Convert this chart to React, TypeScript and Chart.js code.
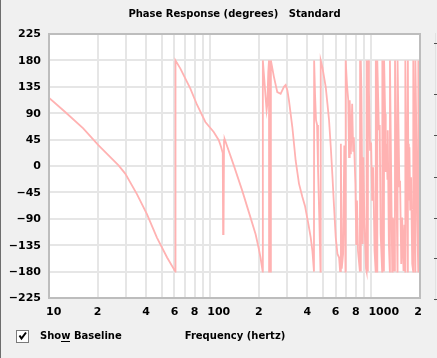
import React, { useEffect, useRef } from "react";
import { Chart, registerables } from "chart.js";

Chart.register(...registerables);

// Frequency (Hz) and phase (degrees)
const FREQ_HZ = [
  10, 10.1, 12.6, 16.3, 20.3, 27, 29.7, 35.1, 40.5, 46.7,
  54, 60.8, 60.9, 65.3, 75.3, 82.9, 93.3, 105.1, 113, 116.9,
  119.6, 120.2, 120.9, 121.8, 122.8, 140, 157.9, 177.8, 191, 199.4,
  205, 211.5, 212, 217.3, 220.4, 223.6, 226, 229.1, 231.5, 231.8,
  237.5, 237.8, 248.3, 260.6, 273.3, 286.5, 293.6, 300.8, 307.8, 323.1,
  338.8, 355.2, 372.9, 387, 406.3, 420, 430.4, 440, 441, 447,
  453, 460, 466, 475, 483, 484.5, 496.5, 507.8, 520.3, 533.3,
  545.7, 559.4, 573.2, 586.1, 600.6, 615.4, 629.8, 638.8, 646, 654,
  667, 678.5, 690, 692, 705, 718, 726, 733, 745, 759,
  770, 777, 785, 795, 805, 813, 825, 848, 850, 858,
  860, 866, 882, 890, 905, 925, 932, 934, 950, 952,
  965, 980, 995, 1010, 1025, 1045, 1062, 1064, 1085, 1087,
  1112, 1125, 1140, 1165, 1168, 1195, 1198, 1215, 1226, 1240,
  1256, 1262, 1282, 1300, 1302, 1345, 1355, 1370, 1385, 1398,
  1400, 1450, 1452, 1470, 1490, 1505, 1530, 1550, 1580, 1600,
  1620, 1622, 1680, 1682, 1690, 1705, 1720, 1740, 1760, 1790,
  1815, 1817, 1870, 1873, 1890, 1925, 1950, 1953, 1980, 1983, 2000,
];

const PHASE_DEG = [
  116, 115, 92, 64, 35, 1, -13, -48, -82, -122,
  -156, -180, 180, 166, 132, 104, 75, 58, 44, 32,
  22, -116, -112, 44, 46, 1, -42, -88, -116, -139,
  -156, -180, 180, 141, 118, 95, 105, 160, 180, -180,
  -180, 180, 152, 126, 123, 135, 138, 129, 112, 66,
  9, -30, -53, -68, -99, -122, -145, -180, 180, 120,
  78, 70, -3, -90, -180, 180, 168, 152, 135, 106,
  78, 32, -19, -70, -122, -150, -156, -179, 38, -175,
  -150, 35, -180, 180, 138, 112, 15, 112, 20, 106,
  26, 49, 15, -30, -133, -59, -145, -180, 180, -180,
  180, 129, -133, 15, -99, -175, -180, 180, -180, 180,
  129, 26, 40, -59, -2, -145, -180, 180, -180, 180,
  61, 70, -116, -180, 180, -180, 180, 89, -10, 38,
  -22, 61, -133, -180, 180, -180, -88, -179, -90, -180,
  180, -180, 180, 72, -36, -25, -167, -88, -179, -100,
  -180, 180, -180, 180, 38, -59, 32, -76, -19, -167,
  -180, 180, -180, 180, 95, -93, -180, 180, -180, 180, 100,
];

const X_GRID = [10, 20, 30, 40, 50, 60, 70, 80, 90, 100, 200, 300, 400, 500, 600, 700, 800, 900, 1000, 2000];
const X_LABEL_VALUES = [10, 20, 40, 60, 80, 100, 200, 400, 600, 800, 1000, 2000];
const X_LABEL_TEXT = ["10", "2", "4", "6", "8", "100", "2", "4", "6", "8", "1000", "2"];
const Y_TICKS = [225, 180, 135, 90, 45, 0, -45, -90, -135, -180, -225];

const TITLE = "Phase Response (degrees)   Standard";
const X_TITLE = "Frequency (hertz)";
const CHECK_LABEL = "Show Baseline";

const decor = {
  id: "decor",
  beforeDraw(chart: any) {
    const ctx = chart.ctx;
    const { left, top, right, bottom } = chart.chartArea;
    ctx.save();
    ctx.fillStyle = "#f0f0f0";
    ctx.fillRect(0, 0, chart.width, chart.height);
    ctx.fillStyle = "#ffffff";
    ctx.fillRect(left, top, right - left, bottom - top);
    ctx.restore();
  },
  afterDraw(chart: any) {
    const ctx = chart.ctx;
    const { left, top, right, bottom } = chart.chartArea;
    const xs = chart.scales.x;
    const ys = chart.scales.y;
    ctx.save();
    // plot border
    ctx.strokeStyle = "#bdbdbd";
    ctx.lineWidth = 2;
    ctx.strokeRect(left, top, right - left, bottom - top);

    // window edge
    ctx.fillStyle = "#6d6d6d";
    ctx.fillRect(0, 0, 1, chart.height);
    ctx.fillStyle = "#e2e2e2";
    ctx.fillRect(435, 33, 1, 268);
    ctx.fillStyle = "#505050";
    [43, 94, 135, 177, 218, 258, 299].forEach((y) => ctx.fillRect(434, y, 3, 1));

    // y labels
    ctx.fillStyle = "#000";
    ctx.font = 'bold 11px "DejaVu Sans"';
    ctx.textAlign = "right";
    ctx.textBaseline = "middle";
    Y_TICKS.forEach((v) => {
      const t = v < 0 ? "\u2212" + Math.abs(v) : String(v);
      ctx.fillText(t, 41, ys.getPixelForValue(v) + 0.5);
    });

    // x labels
    X_LABEL_VALUES.forEach((v, i) => {
      const px = xs.getPixelForValue(v);
      const t = X_LABEL_TEXT[i];
      if (t.length > 1) {
        ctx.textAlign = "left";
        ctx.fillText(t, px - 3, 312.5);
      } else {
        ctx.textAlign = "center";
        ctx.fillText(t, Math.min(px, 418), 312.5);
      }
    });

    // title
    ctx.font = 'bold 10px "DejaVu Sans"';
    ctx.textAlign = "center";
    ctx.fillText(TITLE, (left + right) / 2, 14.5);
    ctx.fillText(X_TITLE, (left + right) / 2 + 0.5, 336);

    // checkbox
    ctx.fillStyle = "#ffffff";
    ctx.fillRect(17, 331, 11, 11);
    ctx.strokeStyle = "#7a7a7a";
    ctx.lineWidth = 1;
    ctx.strokeRect(16.5, 330.5, 12, 12);
    ctx.strokeStyle = "#000";
    ctx.lineWidth = 2;
    ctx.beginPath();
    ctx.moveTo(19.5, 335.5);
    ctx.lineTo(21.5, 338.5);
    ctx.lineTo(26, 332.5);
    ctx.stroke();

    ctx.fillStyle = "#000";
    ctx.textAlign = "left";
    ctx.fillText(CHECK_LABEL, 40, 336);
    const wStart = 40 + ctx.measureText("Sho").width;
    const wWidth = ctx.measureText("w").width;
    ctx.fillRect(Math.round(wStart), 341, Math.round(wWidth), 1);
    ctx.restore();
  },
};

export default function App() {
  const ref = useRef<HTMLCanvasElement | null>(null);
  useEffect(() => {
    document.body.style.margin = "0";
    document.body.style.background = "#f0f0f0";
    const canvas = ref.current!;
    const points = FREQ_HZ.map((f, i) => ({ x: f, y: PHASE_DEG[i] }));
    const chart = new Chart(canvas, {
      type: "line",
      data: {
        datasets: [
          {
            data: points,
            borderColor: "#ffb2b2",
            borderWidth: 1.8,
            pointRadius: 0,
            tension: 0,
            fill: false,
          },
        ],
      },
      options: {
        animation: false,
        responsive: false,
        devicePixelRatio: 1,
        layout: { padding: { left: 49, right: 17, top: 34, bottom: 60 } },
        plugins: { legend: { display: false }, tooltip: { enabled: false }, title: { display: false } },
        scales: {
          x: {
            type: "logarithmic",
            min: 10,
            max: 2000,
            ticks: { display: false },
            border: { display: false },
            grid: { color: "#e6e6e6", lineWidth: 2, drawTicks: false },
            afterBuildTicks: (s: any) => {
              s.ticks = X_GRID.map((v) => ({ value: v }));
            },
            afterFit: (s: any) => {
              s.height = 0;
            },
          },
          y: {
            type: "linear",
            min: -225,
            max: 225,
            ticks: { display: false, stepSize: 45 },
            border: { display: false },
            grid: { color: "#e6e6e6", lineWidth: 2, drawTicks: false },
            afterFit: (s: any) => {
              s.width = 0;
            },
          },
        },
      } as any,
      plugins: [decor],
    });
    return () => chart.destroy();
  }, []);
  return <canvas ref={ref} width={437} height={358} style={{ display: "block" }} />;
}
